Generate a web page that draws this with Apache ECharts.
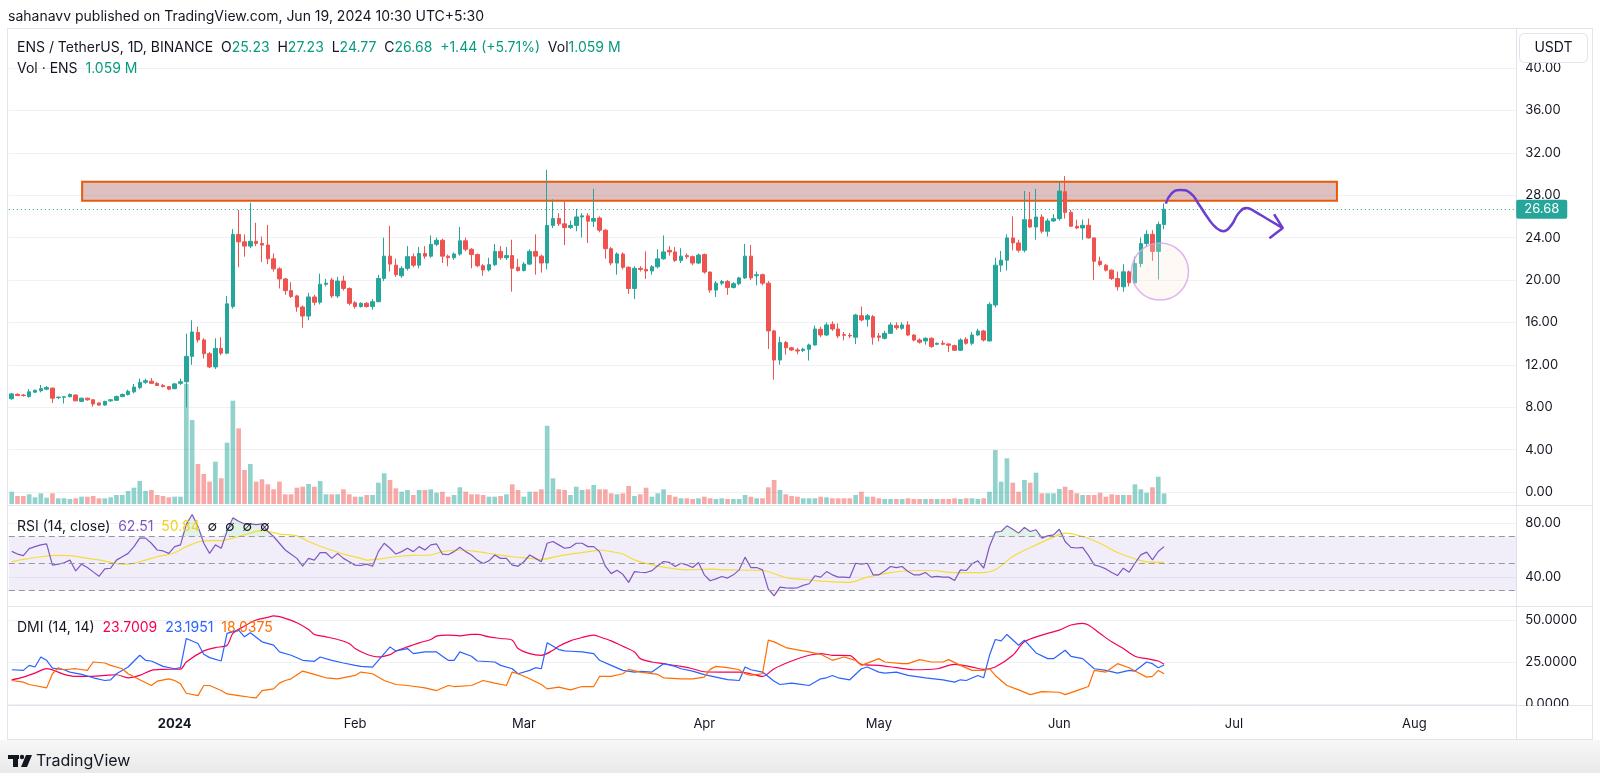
<!DOCTYPE html>
<html><head><meta charset="utf-8">
<script src="https://cdn.jsdelivr.net/npm/echarts@6/dist/echarts.min.js"></script>
<style>html,body{margin:0;padding:0;background:#fff}#c{width:1600px;height:773px}</style>
</head><body><div id="c"></div>
<script>
// ---------------- DATA ----------------
const startDay = Date.UTC(2023, 11, 4);   // first candle: Dec 4, 2023
const totalDays = 259;                    // axis runs to Aug 18, 2024
const monthNames = ['Jan','Feb','Mar','Apr','May','Jun','Jul','Aug','Sep','Oct','Nov','Dec'];
const priceTicks = {min: 0, max: 40, step: 4};
const rsiTicks = {min: 40, max: 80, step: 40};
const dmiTicks = {min: 0, max: 50, step: 25};
const rsiLevels = {upper: 70, middle: 50, lower: 30};

// daily candles [open, high, low, close]
const ohlc = [
[8.8,9.35,8.7,9.25],[9.22,9.3,9.05,9.1],[9.15,9.25,9.0,9.1],[9.0,9.7,8.9,9.45],[9.42,9.65,9.35,9.6],
[9.55,10.1,9.4,9.75],[9.7,10.0,9.6,9.85],[9.8,9.85,8.4,8.85],[8.9,9.0,8.75,8.95],[8.95,9.0,8.35,8.98],
[8.98,9.3,8.95,9.2],[9.15,9.2,8.55,8.6],[8.55,8.9,8.5,8.85],[8.85,8.9,8.6,8.7],[8.7,8.75,8.05,8.3],
[8.4,8.45,8.15,8.2],[8.2,8.6,8.15,8.55],[8.6,8.75,8.5,8.7],[8.65,9.1,8.6,9.0],[9.0,9.3,8.95,9.2],
[9.2,9.65,9.1,9.5],[9.45,10.2,9.3,9.9],[9.85,10.7,9.7,10.35],[10.35,10.7,10.2,10.5],[10.45,10.75,10.2,10.25],
[10.25,10.35,10.0,10.05],[10.05,10.2,9.85,9.95],[9.95,10.0,9.6,9.7],[9.75,10.3,9.7,10.2],[10.25,10.7,10.1,10.4],
[10.4,14.95,8.0,12.8],[12.8,16.2,12.0,15.1],[15.05,15.6,14.1,14.35],[14.35,14.5,12.6,13.05],[13.05,13.2,11.7,11.8],
[11.8,14.5,11.6,13.55],[13.55,14.6,12.9,13.1],[13.1,18.5,13.0,17.75],[17.5,24.8,17.3,24.3],[24.3,26.6,21.2,23.6],
[23.6,24.3,22.2,23.2],[23.2,27.3,23.0,23.65],[23.65,25.4,23.2,23.45],[23.45,24.1,21.7,23.3],[23.3,25.2,21.5,22.0],
[22.0,22.5,20.8,21.05],[21.05,21.2,19.2,20.1],[20.1,20.2,18.6,19.0],[19.0,19.8,18.3,18.45],[18.5,18.6,17.0,17.45],
[17.45,17.6,15.5,16.6],[16.6,18.8,16.2,18.4],[18.4,18.6,17.6,17.9],[17.9,20.6,17.7,19.6],[19.6,20.1,19.4,19.7],
[20.0,20.2,18.3,18.5],[18.5,20.3,18.3,19.9],[19.9,20.4,19.0,19.2],[19.2,19.3,17.6,17.8],[17.85,18.0,17.3,17.5],
[17.5,17.9,17.4,17.8],[17.8,17.9,17.4,17.5],[17.5,18.2,17.2,17.95],[17.95,20.5,17.9,20.15],[20.15,24.0,19.9,22.25],
[22.25,25.1,20.8,21.5],[21.4,22.0,20.3,20.5],[20.4,21.3,20.2,21.1],[21.1,23.2,20.9,22.2],[22.2,22.5,21.2,21.4],
[21.4,23.1,21.1,22.5],[22.5,23.2,22.0,22.25],[22.25,24.2,22.1,23.37],[23.37,24.0,23.2,23.75],[23.75,23.9,21.6,22.25],
[22.25,22.4,21.3,22.1],[22.1,22.6,21.9,22.45],[22.45,25.0,22.3,23.7],[23.7,24.0,22.7,22.9],[22.9,23.0,21.1,22.4],
[22.4,22.5,21.2,21.35],[21.35,21.5,20.4,20.95],[20.95,22.1,20.8,21.45],[21.45,23.4,21.3,22.7],[22.7,23.2,21.9,22.1],
[22.1,23.1,21.9,22.3],[22.3,23.8,18.9,21.1],[21.2,22.0,20.8,20.9],[20.9,21.7,20.8,21.5],[21.5,22.9,21.4,22.7],
[22.7,24.3,20.5,22.25],[22.25,22.4,20.7,21.6],[21.6,30.4,21.0,25.15],[25.15,27.6,24.9,25.8],[25.8,26.3,25.1,25.3],
[25.3,27.4,23.3,24.95],[24.95,25.6,24.8,25.15],[25.15,26.7,24.6,25.95],[25.95,26.3,24.0,26.05],[26.05,26.3,23.5,25.55],
[25.55,28.6,25.0,25.8],[25.85,26.0,24.5,24.7],[24.7,24.8,22.0,22.95],[22.95,23.1,21.4,21.6],[21.6,22.6,20.5,22.45],
[22.45,22.6,21.0,21.2],[21.2,21.3,18.7,19.2],[19.2,21.3,18.2,21.1],[21.1,21.3,20.8,21.0],[21.0,22.7,20.1,20.85],
[20.85,21.4,20.5,21.25],[21.25,22.9,21.1,22.0],[22.0,24.2,21.9,22.65],[22.8,23.2,22.3,22.65],[22.65,23.1,21.7,21.85],
[21.85,23.0,21.6,22.25],[22.3,22.5,22.0,22.2],[22.2,22.3,21.4,21.6],[21.6,22.5,21.5,22.35],[22.4,22.5,20.6,20.75],
[20.75,20.8,18.8,19.05],[19.05,19.9,18.4,19.7],[19.7,20.0,19.5,19.85],[19.85,20.0,18.6,19.3],[19.3,19.8,19.2,19.65],
[19.65,20.3,19.5,20.2],[20.2,23.4,20.1,22.25],[22.25,23.3,20.0,20.2],[20.4,20.8,19.5,20.5],[20.5,20.6,19.5,19.7],
[19.7,19.9,13.5,15.2],[15.2,15.3,10.6,12.45],[12.45,14.65,12.0,14.1],[14.1,14.25,12.95,13.6],[13.6,13.7,13.3,13.4],
[13.4,13.6,13.0,13.3],[13.35,13.6,13.2,13.47],[13.47,14.0,12.4,13.87],[13.87,15.7,13.8,15.38],[15.35,15.6,14.6,14.81],
[14.81,16.0,14.7,15.76],[15.82,16.1,15.2,15.38],[15.38,15.9,14.5,14.72],[14.85,15.1,14.3,14.78],[14.78,15.0,14.5,14.72],
[14.6,16.8,13.95,16.7],[16.63,17.5,16.1,16.23],[16.29,16.8,15.6,16.63],[16.54,16.7,13.9,14.6],[14.72,15.0,14.2,14.6],
[14.5,15.2,14.4,14.97],[14.97,16.0,14.9,15.76],[15.69,16.0,15.3,15.5],[15.44,16.0,15.3,15.76],[15.76,16.1,14.7,14.81],
[14.81,14.9,14.2,14.34],[14.34,14.5,14.0,14.13],[14.25,14.6,13.9,14.5],[14.5,14.6,13.6,13.72],[13.94,14.1,13.85,14.03],
[14.03,14.3,13.85,13.94],[13.97,14.0,13.2,13.84],[13.81,13.9,13.3,13.37],[13.37,14.5,13.3,14.34],[14.41,14.6,13.9,14.03],
[14.03,15.1,13.85,14.81],[14.81,15.4,14.7,15.19],[15.19,15.3,14.2,14.34],[14.25,17.9,14.2,17.7],[17.64,22.1,17.4,21.4],
[21.4,22.75,20.77,21.87],[21.87,24.3,20.9,23.97],[23.97,26.0,22.8,23.5],[23.5,23.8,22.6,22.81],[22.81,28.4,22.6,25.69],
[25.69,28.3,24.9,25.0],[25.0,28.6,23.8,25.94],[25.94,26.2,24.4,24.6],[24.6,25.8,24.1,25.57],[25.57,26.2,25.5,25.79],
[25.79,29.3,25.6,28.39],[28.33,29.8,25.8,26.38],[26.38,26.6,25.0,25.07],[25.07,25.7,24.8,24.91],[24.91,25.7,23.8,25.16],
[25.16,25.8,23.9,23.97],[23.97,24.0,20.0,21.77],[21.77,22.2,21.3,21.46],[21.4,21.5,20.8,20.93],[20.93,21.0,20.0,20.14],
[20.14,20.8,19.0,19.36],[19.36,21.5,18.9,20.77],[20.77,20.9,19.4,19.74],[19.74,22.2,19.6,21.55],[21.55,24.0,21.2,23.44],
[23.44,24.7,23.1,24.31],[24.31,24.7,21.8,22.7],[22.7,25.5,20.05,25.24],[25.23,27.23,24.77,26.68]
];

// volume, millions of ENS
const volume = [
1.23,0.8,0.8,0.97,0.67,1.07,0.63,1.07,0.57,0.57,0.5,0.57,0.73,0.73,0.8,0.57,0.57,0.67,0.9,0.9,
1.3,1.63,2.3,1.3,1.4,0.9,0.8,0.67,0.73,0.73,12.0,8.4,4.0,3.0,2.23,4.23,2.57,6.13,10.33,7.57,
3.4,4.0,2.23,2.47,1.97,1.47,2.23,0.97,0.97,1.63,1.73,2.0,1.73,2.3,0.97,0.97,0.97,1.47,0.97,0.73,
0.73,0.9,0.9,2.13,3.07,2.4,1.57,1.23,1.4,0.9,1.4,1.4,1.47,1.13,1.23,0.73,0.9,1.67,1.23,0.97,
0.97,0.9,0.73,0.73,0.8,0.97,1.97,1.4,0.73,1.23,1.23,1.47,7.83,2.57,1.47,1.4,0.9,1.73,1.4,1.47,
1.9,1.47,1.47,1.07,0.97,1.07,1.8,0.8,0.97,1.63,0.73,1.07,1.47,0.9,0.73,0.57,0.57,0.5,0.57,0.73,
0.57,0.5,0.57,0.5,0.5,0.5,0.9,0.73,0.57,0.57,1.67,2.4,1.4,0.97,0.8,0.73,0.57,0.57,0.57,0.73,
0.67,0.57,0.57,0.57,0.57,0.9,1.23,0.73,0.73,0.57,0.5,0.5,0.5,0.5,0.57,0.5,0.5,0.5,0.5,0.5,
0.5,0.5,0.57,0.5,0.57,0.57,0.5,0.57,1.23,5.4,2.23,4.57,2.13,1.23,2.4,2.13,3.13,1.07,1.07,1.07,
1.5,1.73,1.4,1.07,0.9,0.9,0.9,1.13,0.73,0.97,0.9,0.9,0.9,1.97,1.47,1.13,1.67,2.73,1.059
];

// RSI(14) per candle
const rsi = [
59,57,55.8,61,62.5,63.8,64.5,48.8,49.5,50.5,52.5,44.5,49.5,47,43.8,40.5,46,46.5,52.5,55,
57.5,62.5,68.8,68.8,65,60,59.3,57.5,62.5,63.8,79,86.3,77.5,65,57.5,63.8,61.3,74,83.8,81.3,
79.3,79.3,78.8,79.3,73.8,70,65,60,56.8,53.8,48,53.8,52.5,58,58,53.8,57.5,53.8,51.3,48.8,
48.5,49.5,48,58.8,65,61.3,57,58.8,61.3,58.8,62.5,60,63.8,64.5,57,56.5,58.8,62,58.8,56.3,
52.5,50,52,56.3,53.8,53.8,48.8,48,51.3,56.3,53.8,51.3,65,66.3,63.8,61.3,62,65,65,62.5,
62.5,58.8,48,42.5,45,42,36,44,43.5,43.3,44.7,48.3,51.5,50.8,47.8,50.2,49,47,50.7,41.6,
37.2,38.6,40.4,39.2,41.6,45.3,54.7,47,47,45.3,31,26,32.5,32,31.8,32,33.8,35,40.9,39.9,
44,41.6,39.9,39.9,39.6,50.2,49.5,50.2,41.6,41.6,44.5,47.8,47,47.8,44,41.6,41.6,43.3,39.9,40.4,
39.9,39.9,37.4,45.3,44.8,49.8,52,46.5,62.6,73.2,73.7,77.9,75.4,72.5,76.7,73.7,75,68.8,70.5,71.2,
75.4,66.3,61.9,61.5,62,56,49,47.8,46,43.3,41.1,46.5,43.6,50.2,56.4,58.4,52.7,58.9,62.51
];

// RSI-based moving average, [candle number, value]
const rsiMA = [[1,51.3],[3,53],[6,55],[9,56],[11,55.8],[14,53.8],[17,51.8],[20,49.5],[21,49.5],[24,52.5],[26,55],[29,58],[31,62.5],[34,66.8],[37,67],[40,70],[43,73.8],[44,74.5],[47,71.8],[50,70.5],[52,66.3],[55,61.3],[58,57],[61,53.8],[62,52.5],[64,53.3],[67,55],[70,56],[73,56.3],[75,58.8],[78,60],[81,58.8],[84,56.8],[87,55],[90,53.8],[92,53],[95,55.5],[98,57.5],[101,59.3],[102,60],[104,58.8],[106,57],[108,52.7],[111,49],[115,46],[117,45.3],[121,45.8],[124,45.3],[130,44.8],[134,39.6],[138,37.9],[141,36.7],[145,36],[148,39.9],[152,43.3],[156,44.8],[159,44.8],[163,43.3],[168,43.3],[170,45.3],[173,55.2],[177,63.8],[180,69.5],[182,72.5],[185,70],[188,65],[191,58.1],[194,53.5],[196,51.2],[199,50.84]];

// DMI(14,14), [candle number, value]
const adx = [[1,14.4],[3,16],[5,18.4],[7,21],[9,19],[10,17.6],[12,16.4],[14,16.4],[17,17],[19,17.4],[21,15.6],[23,17],[25,20],[27,20.6],[30,20.8],[31,25],[34,31.6],[36,33.6],[38,35],[39,42],[41,46.4],[43,50],[45,51.6],[46,52.4],[48,51],[50,48.4],[52,44.4],[53,41.4],[55,40],[57,38.4],[59,36],[60,33],[62,29.6],[64,28],[66,29.4],[67,31.4],[69,34],[71,36.4],[73,38.4],[74,40.4],[76,41],[78,40.6],[80,41.4],[81,41.4],[83,40],[85,39],[87,38],[88,33],[90,30],[92,29],[94,32],[95,34.4],[97,37.6],[99,39.6],[101,41],[102,40],[104,37.6],[106,34.4],[108,31],[109,27],[111,25],[113,24],[116,22.4],[118,21],[120,19.2],[123,19],[126,19],[128,18],[130,16.4],[132,21],[135,25.6],[138,29],[140,30],[142,29],[145,28.8],[147,23.6],[150,23],[153,21.6],[156,20.4],[160,21],[163,23.6],[166,22],[168,20.6],[170,22],[173,29],[175,37],[178,41],[181,44],[183,47],[185,48],[186,47],[188,42],[190,37],[192,33],[194,28.4],[196,27],[198,25.6],[199,23.7009]];
const plusDI = [[1,20.4],[3,20],[4,23],[5,22],[6,28],[7,26],[8,21.4],[10,20.4],[11,19],[13,17.6],[15,15.6],[17,14],[18,14.4],[19,18],[21,22],[23,29],[24,26],[25,25.6],[27,22.4],[29,21],[30,21.6],[31,39],[33,36],[34,29.6],[35,27.6],[37,25.6],[38,42],[40,44],[41,40],[42,42.4],[44,37],[46,35],[47,31],[49,29],[51,26],[53,25.4],[54,28],[56,26],[58,24.4],[60,23],[61,22.4],[63,22],[64,26],[66,34],[67,31.6],[69,33],[70,30],[72,31],[74,31],[75,28.4],[76,26],[77,26],[78,31],[80,28.4],[81,25.6],[84,25],[85,23],[87,21],[88,18],[90,20],[91,21.6],[92,21],[93,36.4],[95,32.4],[96,31.6],[97,31.4],[99,31],[101,30],[102,26],[104,23],[106,20],[108,19],[109,19.4],[111,19],[113,24],[115,22.4],[116,21],[118,19.6],[120,17.5],[122,16],[124,14.5],[126,14],[127,22],[128,20.4],[130,19],[132,13.6],[133,11.6],[135,12.4],[136,12],[138,11],[140,15],[141,15.6],[142,17],[143,15.6],[145,14.4],[147,21],[148,22],[150,19],[151,18.4],[153,19],[155,17],[158,15.6],[161,14.4],[163,13],[164,14.4],[165,14],[167,17],[168,15.6],[169,29],[170,38.4],[171,37.6],[172,41.4],[174,35],[175,38],[177,30.4],[179,27],[180,27],[182,32],[183,28.4],[185,27],[187,21],[189,20],[191,18.4],[193,20],[194,19.6],[196,25],[197,24],[198,21.6],[199,23.1951]];
const minusDI = [[1,14],[3,13],[4,11.6],[7,9.6],[8,18],[9,21.6],[10,20.4],[12,21],[14,20],[15,25],[17,24.4],[18,23],[20,21],[21,18],[23,14.4],[25,11],[26,13.6],[28,15],[29,14],[30,12],[31,6.4],[33,5],[34,11],[35,11],[37,8],[38,6],[40,5],[42,4],[43,3.6],[44,8],[46,9],[47,12.4],[48,14],[49,15],[51,19.6],[53,17.6],[55,15.6],[57,15],[60,17],[61,19],[63,18],[65,14],[67,11.6],[69,11],[72,9.6],[74,8],[76,11],[77,10.4],[80,11],[82,14],[84,12.4],[86,11],[87,19],[88,18],[90,15],[92,11.6],[93,9],[95,10],[97,8.4],[99,10.4],[101,10.4],[102,16.4],[104,16.4],[106,18],[107,20.6],[109,19],[112,17.6],[113,15.6],[116,15],[118,15],[120,16],[121,20.6],[122,22.4],[124,21.6],[126,20.4],[127,18],[128,17],[130,18],[131,38],[132,37],[134,33.6],[136,32.2],[138,31],[140,29.6],[142,26],[144,28],[146,26],[147,23],[150,27],[151,25],[154,24],[155,24],[157,26.4],[159,25],[161,25],[162,26.4],[164,23],[166,20],[168,20],[169,21],[170,17],[172,11],[174,8.4],[176,5.6],[178,7.4],[181,7],[182,5.6],[184,8],[186,10.4],[187,20],[189,19],[191,24],[193,21.6],[194,19.6],[196,16],[197,16.4],[198,20],[199,18.0375]];

// drawings (x in candle-index units from the first candle, y in USDT)
const resistanceZone = {fromIdx: 12.1, toIdx: 227.7, low: 27.48, high: 29.27};
const projection = [[198.3,27.2],[199.3,28.17],[200.7,28.5],[202.5,28.2],[203.9,27.2],[205.6,25.8],[207,24.9],[208.2,24.6],[209.6,25.2],[210.8,26.3],[212.2,26.8],[213.6,26.45],[215.6,25.8],[218.4,24.9]];
const projectionHead = [[216.9,26.2],[218.4,24.9],[216.1,23.93]];
const wickCircle = [[197.3,20.8]];

// ---------------- BUILD ----------------
const dates = [];
for (let i = 0; i < totalDays; i++) dates.push(new Date(startDay + i * 86400000).toISOString().slice(0, 10));
const nC = ohlc.length;
const last = ohlc[nC - 1], prevClose = ohlc[nC - 2][3];
const chg = last[3] - prevClose, pct = chg / prevClose * 100;
const isUp = ohlc.map(d => d[3] >= d[0]);
const UP = '#26a69a', DN = '#ef5350';
const FONT = 'Inter, "Noto Sans", sans-serif';
const pairs = arr => arr.map(([n, v]) => [n - 1, v]);
const overbought = rsi.map(v => Math.max(v, rsiLevels.upper));
const oversold = rsi.map(v => Math.min(v, rsiLevels.lower));

const L = 8.8, R = 83.8;
const hidCat = g => ({type: 'category', gridIndex: g, data: dates, boundaryGap: true, show: false});
const chart = echarts.init(document.getElementById('c'), null, {renderer: 'canvas'});

const option = {
  animation: false,
  backgroundColor: '#ffffff',
  textStyle: {fontFamily: FONT},
  grid: [
    {left: L, right: R, top: 68, height: 424},
    {left: L, right: R, top: 204, height: 300},
    {left: L, right: R, top: 505, height: 101},
    {left: L, right: R, top: 523, height: 54},
    {left: L, right: R, top: 620, height: 84}
  ],
  xAxis: [
    hidCat(0), hidCat(1), hidCat(2), hidCat(3),
    {type: 'category', gridIndex: 4, data: dates, boundaryGap: true,
     axisLine: {show: false}, axisTick: {show: false}, splitLine: {show: false},
     axisLabel: {interval: (i, v) => v.slice(8) === '01', margin: 14, color: '#131722', fontSize: 13, fontFamily: FONT,
       formatter: v => { const m = +v.slice(5, 7); return m === 1 ? '{y|' + v.slice(0, 4) + '}' : monthNames[m - 1]; },
       rich: {y: {fontWeight: 'bold', fontSize: 13, color: '#131722', fontFamily: FONT}}}},
    {type: 'value', gridIndex: 0, min: -0.5, max: totalDays - 0.5, show: false}
  ],
  yAxis: [
    {type: 'value', gridIndex: 0, position: 'right', min: priceTicks.min, max: priceTicks.max, interval: priceTicks.step,
     axisLine: {show: false}, axisTick: {show: false},
     axisLabel: {formatter: v => v.toFixed(2), color: '#131722', fontSize: 13, margin: 9, fontFamily: FONT},
     splitLine: {lineStyle: {color: '#eff1f5', width: 1}}},
    {type: 'value', gridIndex: 1, min: 0, max: 30, show: false, splitLine: {show: false}},
    {type: 'value', gridIndex: 2, min: 18.5185, max: 93.3333, show: false, splitLine: {show: false}},
    {type: 'value', gridIndex: 3, position: 'right', min: rsiTicks.min, max: rsiTicks.max, interval: rsiTicks.step,
     axisLine: {show: false}, axisTick: {show: false},
     axisLabel: {formatter: v => v.toFixed(2), color: '#131722', fontSize: 13, margin: 9, fontFamily: FONT},
     splitLine: {lineStyle: {color: '#eff1f5'}}},
    {type: 'value', gridIndex: 4, position: 'right', min: dmiTicks.min, max: dmiTicks.max, interval: dmiTicks.step,
     axisLine: {show: false}, axisTick: {show: false},
     axisLabel: {formatter: v => v.toFixed(4), color: '#131722', fontSize: 13, margin: 9, fontFamily: FONT},
     splitLine: {lineStyle: {color: '#eff1f5'}}}
  ],
  series: [
    {name: 'Volume', type: 'bar', xAxisIndex: 1, yAxisIndex: 1, barWidth: '80%', z: 1,
     data: volume.map((v, i) => ({value: v, itemStyle: {color: isUp[i] ? 'rgba(38,166,154,0.5)' : 'rgba(239,83,80,0.5)'}}))},
    {name: 'ENS', type: 'candlestick', xAxisIndex: 0, yAxisIndex: 0, barWidth: 4, z: 3,
     data: ohlc.map(([o, h, l, c]) => [o, c, l, h]),
     itemStyle: {color: UP, color0: DN, borderColor: UP, borderColor0: DN, borderWidth: 1}},
    {name: 'projection', type: 'line', xAxisIndex: 5, yAxisIndex: 0, smooth: 0.5, symbol: 'none', z: 6, clip: false,
     data: projection, lineStyle: {color: '#6a3fd0', width: 2.5},
     markArea: {silent: true, itemStyle: {color: 'rgba(176,104,104,0.42)', borderColor: '#e8590c', borderWidth: 2},
       data: [[{coord: [resistanceZone.fromIdx, resistanceZone.high]}, {coord: [resistanceZone.toIdx, resistanceZone.low]}]]},
     markLine: {silent: true, symbol: ['none', 'none'],
       lineStyle: {type: [1, 3], color: UP, width: 1},
       label: {show: true, position: 'end', distance: 0, formatter: last[3].toFixed(2), color: '#fff', backgroundColor: UP,
               padding: [3, 8, 3, 8], borderRadius: 2, fontSize: 13, fontFamily: FONT},
       data: [{yAxis: last[3]}]}},
    {name: 'head', type: 'line', xAxisIndex: 5, yAxisIndex: 0, symbol: 'none', z: 6, clip: false,
     data: projectionHead, lineStyle: {color: '#6a3fd0', width: 2.5}},
    {name: 'circle', type: 'scatter', xAxisIndex: 5, yAxisIndex: 0, z: 5, data: wickCircle, symbolSize: 57, silent: true,
     itemStyle: {color: 'rgba(252,234,218,0.35)', borderColor: '#d6a2ea', borderWidth: 1.5}},
    {name: 'RSI overbought fill', type: 'line', xAxisIndex: 2, yAxisIndex: 2, symbol: 'none', z: 2, silent: true,
     data: overbought, lineStyle: {width: 0, opacity: 0},
     areaStyle: {origin: rsiLevels.upper, color: 'rgba(56,176,90,0.22)'}},
    {name: 'RSI oversold fill', type: 'line', xAxisIndex: 2, yAxisIndex: 2, symbol: 'none', z: 2, silent: true,
     data: oversold, lineStyle: {width: 0, opacity: 0},
     areaStyle: {origin: rsiLevels.lower, color: 'rgba(239,83,80,0.2)'}},
    {name: 'RSI', type: 'line', xAxisIndex: 2, yAxisIndex: 2, symbol: 'none', z: 4, data: rsi,
     lineStyle: {color: '#7e57c2', width: 1.2},
     markArea: {silent: true, itemStyle: {color: 'rgba(126,87,194,0.1)'}, data: [[{yAxis: rsiLevels.lower}, {yAxis: rsiLevels.upper}]]},
     markLine: {silent: true, symbol: ['none', 'none'], label: {show: false},
       lineStyle: {color: '#9598a1', type: [6, 4], width: 1},
       data: [{yAxis: rsiLevels.upper}, {yAxis: rsiLevels.middle}, {yAxis: rsiLevels.lower}]}},
    {name: 'RSI MA', type: 'line', xAxisIndex: 2, yAxisIndex: 2, symbol: 'none', z: 3, smooth: 0.3,
     data: pairs(rsiMA), lineStyle: {color: '#f5dc3a', width: 1.2}},
    {name: 'ADX', type: 'line', xAxisIndex: 4, yAxisIndex: 4, symbol: 'none', smooth: 0.3, clip: false,
     data: pairs(adx), lineStyle: {color: '#f50057', width: 1.2}},
    {name: '+DI', type: 'line', xAxisIndex: 4, yAxisIndex: 4, symbol: 'none', clip: false,
     data: pairs(plusDI), lineStyle: {color: '#2962ff', width: 1.2}},
    {name: '-DI', type: 'line', xAxisIndex: 4, yAxisIndex: 4, symbol: 'none', clip: false,
     data: pairs(minusDI), lineStyle: {color: '#ff6d00', width: 1.2}}
  ],
  graphic: [
    {type: 'rect', z: -10, silent: true, shape: {x: 0, y: 740, width: 1600, height: 33},
     style: {fill: new echarts.graphic.LinearGradient(0, 0, 0, 1, [{offset: 0, color: '#f7f7f7'}, {offset: 1, color: '#e9e9e9'}])}},
    {type: 'rect', z: -9, silent: true, shape: {x: 7.5, y: 28.5, width: 1585, height: 711},
     style: {fill: 'none', stroke: '#e0e3eb', lineWidth: 1}},
    {type: 'line', z: -9, silent: true, shape: {x1: 7.5, y1: 505.5, x2: 1592.5, y2: 505.5}, style: {stroke: '#e0e3eb', lineWidth: 1}},
    {type: 'line', z: -9, silent: true, shape: {x1: 7.5, y1: 606.5, x2: 1592.5, y2: 606.5}, style: {stroke: '#e0e3eb', lineWidth: 1}},
    {type: 'line', z: -9, silent: true, shape: {x1: 7.5, y1: 705.5, x2: 1592.5, y2: 705.5}, style: {stroke: '#e0e3eb', lineWidth: 1}},
    {type: 'line', z: -9, silent: true, shape: {x1: 1516.5, y1: 28.5, x2: 1516.5, y2: 739.5}, style: {stroke: '#e0e3eb', lineWidth: 1}},
    {type: 'rect', z: 50, silent: true, shape: {x: 1517, y: 706, width: 75, height: 33}, style: {fill: '#ffffff'}},
    {type: 'rect', z: 50, silent: true, shape: {x: 1519.5, y: 33.5, width: 68, height: 29, r: 5},
     style: {fill: '#ffffff', stroke: '#e0e3eb', lineWidth: 1}},
    {type: 'text', z: 51, silent: true, x: 1553.5, y: 48,
     style: {text: 'USDT', font: '14px ' + FONT, fill: '#131722', align: 'center', verticalAlign: 'middle'}},
    {type: 'text', z: 51, silent: true, x: 8, y: 17,
     style: {text: 'sahanavv published on TradingView.com, Jun 19, 2024 10:30 UTC+5:30', font: '14px ' + FONT, fill: '#131722', verticalAlign: 'middle'}},
    {type: 'text', z: 51, silent: true, x: 17, y: 48,
     style: {text: '{d|ENS / TetherUS, 1D, BINANCE}  {d|O}{g|' + last[0].toFixed(2) + '}  {d|H}{g|' + last[1].toFixed(2) +
       '}  {d|L}{g|' + last[2].toFixed(2) + '}  {d|C}{g|' + last[3].toFixed(2) + '}  {g|' + (chg >= 0 ? '+' : '') + chg.toFixed(2) +
       ' (' + (pct >= 0 ? '+' : '') + pct.toFixed(2) + '%)}  {d|Vol}{g|' + volume[nC - 1].toFixed(3) + ' M}',
       font: '14px ' + FONT, verticalAlign: 'middle',
       rich: {d: {fill: '#131722', font: '14px ' + FONT}, g: {fill: '#089981', font: '14px ' + FONT}}}},
    {type: 'text', z: 51, silent: true, x: 17, y: 69,
     style: {text: '{d|Vol · ENS}  {g|' + volume[nC - 1].toFixed(3) + ' M}', font: '14px ' + FONT, verticalAlign: 'middle',
       rich: {d: {fill: '#131722', font: '14px ' + FONT}, g: {fill: '#089981', font: '14px ' + FONT}}}},
    {type: 'text', z: 51, silent: true, x: 17, y: 527,
     style: {text: '{d|RSI (14, close)}  {p|' + rsi[nC - 1].toFixed(2) + '}  {y|' + rsiMA[rsiMA.length - 1][1].toFixed(2) + '}  {d|∅  ∅  ∅  ∅}',
       font: '14px ' + FONT, verticalAlign: 'middle',
       rich: {d: {fill: '#131722', font: '14px ' + FONT}, p: {fill: '#7e57c2', font: '14px ' + FONT}, y: {fill: '#f0d21a', font: '14px ' + FONT}}}},
    {type: 'text', z: 51, silent: true, x: 17, y: 628,
     style: {text: '{d|DMI (14, 14)}  {a|' + adx[adx.length - 1][1].toFixed(4) + '}  {b|' + plusDI[plusDI.length - 1][1].toFixed(4) + '}  {o|' + minusDI[minusDI.length - 1][1].toFixed(4) + '}',
       font: '14px ' + FONT, verticalAlign: 'middle',
       rich: {d: {fill: '#131722', font: '14px ' + FONT}, a: {fill: '#f50057', font: '14px ' + FONT}, b: {fill: '#2962ff', font: '14px ' + FONT}, o: {fill: '#ff6d00', font: '14px ' + FONT}}}},
    {type: 'rect', z: 51, silent: true, shape: {x: 8, y: 755, width: 11, height: 4}, style: {fill: '#131722'}},
    {type: 'rect', z: 51, silent: true, shape: {x: 13, y: 755, width: 5, height: 12}, style: {fill: '#131722'}},
    {type: 'circle', z: 51, silent: true, shape: {cx: 22, cy: 757, r: 2.2}, style: {fill: '#131722'}},
    {type: 'polygon', z: 51, silent: true, shape: {points: [[26, 755], [32, 755], [27, 767], [21, 767]]}, style: {fill: '#131722'}},
    {type: 'text', z: 51, silent: true, x: 36, y: 761,
     style: {text: 'TradingView', font: '16px ' + FONT, fill: '#131722', verticalAlign: 'middle'}}
  ]
};
chart.setOption(option);
</script>
</body></html>
